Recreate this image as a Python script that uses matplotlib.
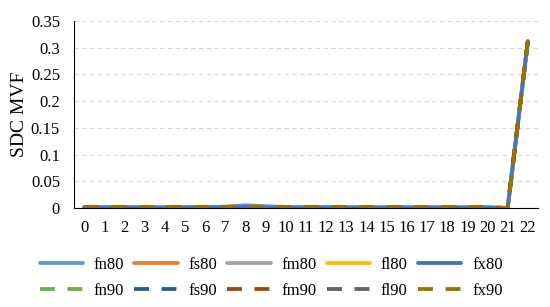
import matplotlib.pyplot as plt
from matplotlib.ticker import MultipleLocator, FuncFormatter

plt.rcParams['font.family'] = ['Liberation Serif', 'DejaVu Serif']

# data
x_labels = [str(i) for i in range(23)]
fn80 = [0.001, 0.001, 0.001, 0.0008, 0.0008, 0.001, 0.002, 0.0025, 0.005, 0.0035, 0.0015, 0.001,
        0.001, 0.0008, 0.0008, 0.0008, 0.0008, 0.0008, 0.0008, 0.0008, 0.0008, 0.0, 0.312]
fs80 = [0.001, 0.001, 0.001, 0.0008, 0.0008, 0.001, 0.0015, 0.0015, 0.002, 0.0015, 0.001, 0.001,
        0.001, 0.0008, 0.0008, 0.0008, 0.0008, 0.0008, 0.0008, 0.0008, 0.0008, 0.0, 0.312]
fm80 = fs80
fl80 = fs80
fx80 = [0.001, 0.001, 0.001, 0.0008, 0.0008, 0.001, 0.0015, 0.0015, 0.002, 0.0015, 0.001, 0.001,
        0.001, 0.0008, 0.0008, 0.0008, 0.0008, 0.0008, 0.0008, 0.0008, 0.0008, 0.0, 0.312]
fn90 = fx80
fs90 = fx80
fm90 = fx80
fl90 = fx80
fx90 = fx80

names = ['fn80', 'fs80', 'fm80', 'fl80', 'fx80', 'fn90', 'fs90', 'fm90', 'fl90', 'fx90']
series = [fn80, fs80, fm80, fl80, fx80, fn90, fs90, fm90, fl90, fx90]
colors = ['#5B9BD5', '#ED7D31', '#A5A5A5', '#FFC000', '#4472C4',
          '#70AD47', '#255E91', '#9E480E', '#636363', '#997300']

fig = plt.figure(figsize=(5.5, 3.07), dpi=100)
ax = fig.add_axes([0.1345, 0.3225, 0.8435, 0.6091])

xs = list(range(len(x_labels)))
lines = []
for i, (name, vals, c) in enumerate(zip(names, series, colors)):
    if i < 5:
        ln, = ax.plot(xs, vals, color=c, lw=2.75, solid_capstyle='round', label=name)
    else:
        ln, = ax.plot(xs, vals, color=c, lw=2.75, dashes=(3.9, 3.3), dash_capstyle='butt', label=name)
    lines.append(ln)

ax.set_xlim(-0.5, len(xs) - 0.5)
ax.set_ylim(0, 0.35)
ax.yaxis.set_major_locator(MultipleLocator(0.05))
ax.yaxis.set_major_formatter(FuncFormatter(lambda v, p: ('%.2f' % v).rstrip('0').rstrip('.') if v else '0'))
ax.set_xticks(xs)
ax.set_xticklabels(x_labels)
ax.tick_params(axis='both', length=0, labelsize=12)
ax.tick_params(axis='x', pad=9)
ax.tick_params(axis='y', pad=10)
ax.grid(axis='y', color='#D9D9D9', linestyle=(0, (4, 3)), lw=0.8)
ax.set_axisbelow(True)
for s in ['top', 'right']:
    ax.spines[s].set_visible(False)
ax.spines['left'].set_color('black')
ax.spines['bottom'].set_color('black')
ax.set_ylabel('SDC MVF', fontsize=14)
ax.yaxis.set_label_coords(-0.10, 0.5)

# column-major order so that row 1 holds the 80 series
order = [0, 5, 1, 6, 2, 7, 3, 8, 4, 9]
fig.legend([lines[i] for i in order], [names[i] for i in order], ncol=5,
           loc='center', bbox_to_anchor=(0.493, 0.0945), frameon=False,
           fontsize=12, handlelength=2.6, columnspacing=0.6, handletextpad=0.65,
           labelspacing=0.6, borderpad=0)

fig.savefig('out.png', dpi=100)
